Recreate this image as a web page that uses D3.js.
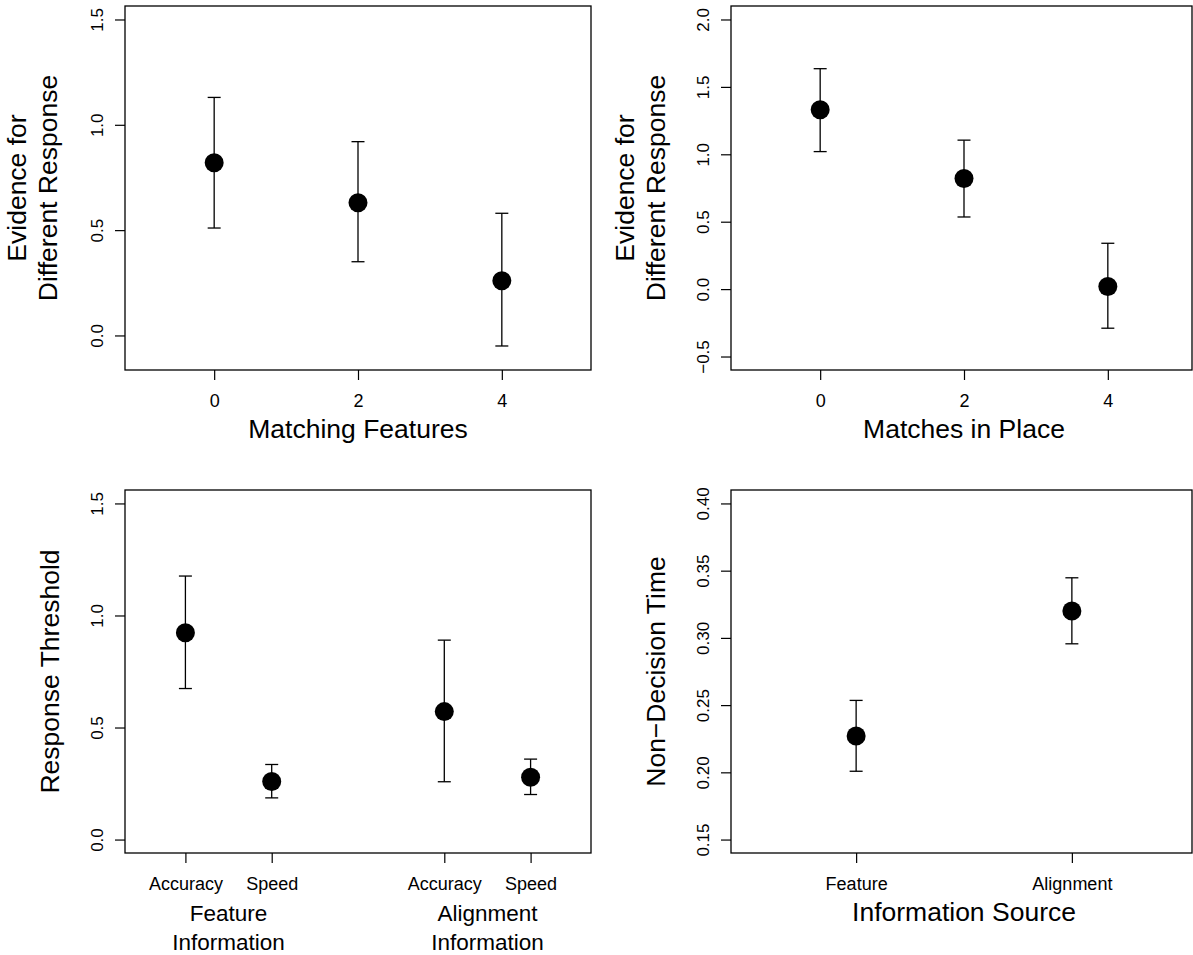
<!DOCTYPE html>
<html>
<head>
<meta charset="utf-8">
<script src="https://cdn.jsdelivr.net/npm/d3@7"></script>
<style>
  html, body { margin: 0; padding: 0; background: #fff; }
  svg { display: block; }
  text { font-family: "Liberation Sans", Arial, Helvetica, sans-serif; fill: #000; }
</style>
</head>
<body>
<svg id="chart" width="1193" height="955"></svg>
<script>
// ---------------- DATA ----------------
// Panel 1: Matching Features
const p1X = [0, 2, 4];
const p1Mean = [0.82, 0.63, 0.26];
const p1Upper = [1.13, 0.92, 0.58];
const p1Lower = [0.51, 0.35, -0.05];
const p1XTicks = [0, 2, 4];
const p1YTicks = [0.0, 0.5, 1.0, 1.5];
const p1XLabel = "Matching Features";
const p1YLabel = ["Evidence for", "Different Response"];

// Panel 2: Matches in Place
const p2X = [0, 2, 4];
const p2Mean = [1.33, 0.82, 0.02];
const p2Upper = [1.635, 1.105, 0.34];
const p2Lower = [1.02, 0.535, -0.29];
const p2XTicks = [0, 2, 4];
const p2YTicks = [-0.5, 0.0, 0.5, 1.0, 1.5, 2.0];
const p2XLabel = "Matches in Place";
const p2YLabel = ["Evidence for", "Different Response"];

// Panel 3: Response Threshold
const p3X = [1, 2, 4, 5];
const p3Mean = [0.923, 0.259, 0.571, 0.278];
const p3Upper = [1.176, 0.335, 0.890, 0.359];
const p3Lower = [0.674, 0.186, 0.258, 0.201];
const p3XTicks = [1, 2, 4, 5];
const p3XTickLabels = ["Accuracy", "Speed", "Accuracy", "Speed"];
const p3YTicks = [0.0, 0.5, 1.0, 1.5];
const p3Groups = [["Feature", "Information"], ["Alignment", "Information"]];
const p3GroupX = [1.5, 4.5];
const p3YLabel = ["Response Threshold"];

// Panel 4: Non-Decision Time
const p4X = [1, 2];
const p4Mean = [0.227, 0.320];
const p4Upper = [0.2535, 0.3447];
const p4Lower = [0.2008, 0.2956];
const p4XTicks = [1, 2];
const p4XTickLabels = ["Feature", "Alignment"];
const p4YTicks = [0.15, 0.20, 0.25, 0.30, 0.35, 0.40];
const p4XLabel = "Information Source";
const p4YLabel = ["Non\u2212Decision Time"];

// ---------------- LAYOUT ----------------
const W = 1193, H = 955;
const svg = d3.select("#chart");

// R-style 4% axis extension
function rlim(lo, hi) { const r = hi - lo; return [lo - 0.04 * r, hi + 0.04 * r]; }
const fmtMinus = s => s.replace("-", "\u2212");

function drawPanel(cfg) {
  const {box, xlim, ylim} = cfg;
  const x = d3.scaleLinear().domain(rlim(xlim[0], xlim[1])).range([box.left, box.right]);
  const y = d3.scaleLinear().domain(rlim(ylim[0], ylim[1])).range([box.bottom, box.top]);
  const g = svg.append("g");

  // frame
  const frameRight = Math.min(box.right, W - 1);
  g.append("rect")
    .attr("x", box.left).attr("y", box.top)
    .attr("width", frameRight - box.left).attr("height", box.bottom - box.top)
    .attr("fill", "none").attr("stroke", "#000").attr("stroke-width", 1.3);

  // y axis
  const yAx = g.append("g").attr("transform", `translate(${box.left},0)`)
    .call(d3.axisLeft(y).tickValues(cfg.yTicks).tickSize(10).tickSizeOuter(0)
      .tickFormat(cfg.yFormat));
  yAx.select(".domain").remove();
  yAx.selectAll(".tick line").attr("stroke", "#000").attr("stroke-width", 1.2);
  yAx.selectAll(".tick text")
    .attr("x", null).attr("dy", null)
    .attr("transform", "translate(-22,0) rotate(-90)")
    .attr("text-anchor", "middle")
    .style("font-size", "17px")
    .style("font-family", "'Liberation Sans', Arial, sans-serif")
    .attr("fill", "#000");

  // x axis
  const xAx = g.append("g").attr("transform", `translate(0,${box.bottom})`)
    .call(d3.axisBottom(x).tickValues(cfg.xTicks).tickSize(10).tickSizeOuter(0)
      .tickFormat(cfg.xFormat));
  xAx.select(".domain").remove();
  xAx.selectAll(".tick line").attr("stroke", "#000").attr("stroke-width", 1.2);
  xAx.selectAll(".tick text")
    .attr("y", 31).attr("dy", "0.36em")
    .style("font-size", cfg.xTickSize + "px")
    .style("font-family", "'Liberation Sans', Arial, sans-serif")
    .attr("fill", "#000");

  // error bars
  const capW = 6.5;
  const idx = d3.range(cfg.xs.length);
  g.selectAll(".eb").data(idx).join("line")
    .attr("x1", i => x(cfg.xs[i])).attr("x2", i => x(cfg.xs[i]))
    .attr("y1", i => y(cfg.lower[i])).attr("y2", i => y(cfg.upper[i]))
    .attr("stroke", "#000").attr("stroke-width", 1.3);
  g.selectAll(".capT").data(idx).join("line")
    .attr("x1", i => x(cfg.xs[i]) - capW).attr("x2", i => x(cfg.xs[i]) + capW)
    .attr("y1", i => y(cfg.upper[i])).attr("y2", i => y(cfg.upper[i]))
    .attr("stroke", "#000").attr("stroke-width", 1.3);
  g.selectAll(".capB").data(idx).join("line")
    .attr("x1", i => x(cfg.xs[i]) - capW).attr("x2", i => x(cfg.xs[i]) + capW)
    .attr("y1", i => y(cfg.lower[i])).attr("y2", i => y(cfg.lower[i]))
    .attr("stroke", "#000").attr("stroke-width", 1.3);
  // points
  g.selectAll(".pt").data(idx).join("circle")
    .attr("cx", i => x(cfg.xs[i])).attr("cy", i => y(cfg.mean[i]))
    .attr("r", 9.5).attr("fill", "#000");

  // y title
  const cy = (box.top + box.bottom) / 2;
  cfg.yLabel.forEach((t, k) => {
    const n = cfg.yLabel.length;
    const cx = box.left + cfg.yTitleOffset - (n - 1 - k) * 31;
    g.append("text")
      .attr("transform", `translate(${cx},${cy}) rotate(-90)`)
      .attr("text-anchor", "middle").attr("dy", "0.35em")
      .style("font-size", "26.5px").text(t);
  });

  // x title(s)
  if (cfg.xLabel) {
    g.append("text")
      .attr("x", (box.left + box.right) / 2).attr("y", box.bottom + 59).attr("dy", "0.35em")
      .attr("text-anchor", "middle").style("font-size", "26.5px").text(cfg.xLabel);
  }
  if (cfg.groups) {
    cfg.groups.forEach((lines, gi) => {
      lines.forEach((t, k) => {
        g.append("text")
          .attr("x", x(cfg.groupX[gi])).attr("y", box.bottom + 60 + k * 29).attr("dy", "0.35em")
          .attr("text-anchor", "middle").style("font-size", "22.5px").text(t);
      });
    });
  }
}

const fmt1 = d => fmtMinus(d3.format(".1f")(d));
const fmt2 = d => d3.format(".2f")(d);
const fmtInt = d => String(d);

drawPanel({
  box: {left: 125, right: 591, top: 6, bottom: 370},
  xlim: [-1, 5], ylim: [-0.1, 1.5],
  xs: p1X, mean: p1Mean, upper: p1Upper, lower: p1Lower,
  xTicks: p1XTicks, xFormat: fmtInt, xTickSize: 18,
  yTicks: p1YTicks, yFormat: fmt1,
  xLabel: p1XLabel, yLabel: p1YLabel, yTitleOffset: -77.5
});
drawPanel({
  box: {left: 731, right: 1197, top: 6, bottom: 370},
  xlim: [-1, 5], ylim: [-0.5, 2.0],
  xs: p2X, mean: p2Mean, upper: p2Upper, lower: p2Lower,
  xTicks: p2XTicks, xFormat: fmtInt, xTickSize: 18,
  yTicks: p2YTicks, yFormat: fmt1,
  xLabel: p2XLabel, yLabel: p2YLabel, yTitleOffset: -75
});
drawPanel({
  box: {left: 125, right: 591, top: 490, bottom: 853},
  xlim: [0.5, 5.5], ylim: [0, 1.5],
  xs: p3X, mean: p3Mean, upper: p3Upper, lower: p3Lower,
  xTicks: p3XTicks, xFormat: (d, i) => p3XTickLabels[i], xTickSize: 18,
  yTicks: p3YTicks, yFormat: fmt1,
  groups: p3Groups, groupX: p3GroupX, yLabel: p3YLabel, yTitleOffset: -75
});
drawPanel({
  box: {left: 731, right: 1197, top: 490, bottom: 853},
  xlim: [0.5, 2.5], ylim: [0.15, 0.40],
  xs: p4X, mean: p4Mean, upper: p4Upper, lower: p4Lower,
  xTicks: p4XTicks, xFormat: (d, i) => p4XTickLabels[i], xTickSize: 18,
  yTicks: p4YTicks, yFormat: fmt2,
  xLabel: p4XLabel, yLabel: p4YLabel, yTitleOffset: -75
});
</script>
</body>
</html>
